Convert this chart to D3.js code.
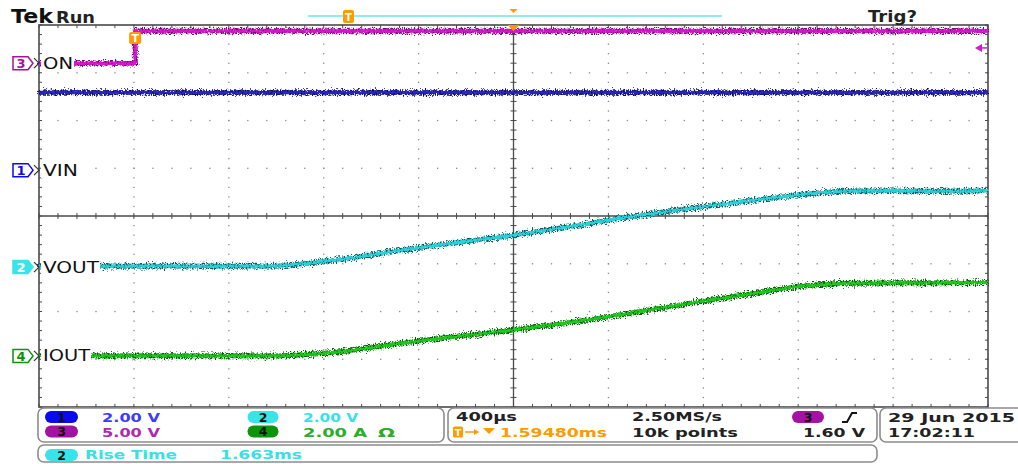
<!DOCTYPE html>
<html><head><meta charset="utf-8">
<script src="https://cdn.jsdelivr.net/npm/d3@7"></script>
<style>html,body{margin:0;padding:0;background:#fff;}svg{display:block;}</style>
</head><body>
<svg id="c" width="1018" height="464"></svg>
<script>
// ---------- data ----------
const timeMs = [-2.0, -1.0, -0.9, -0.7, -0.5, -0.25, 0, 0.25, 0.5, 0.75, 1.0, 1.2, 1.4, 1.6, 1.8, 2.0];
const voutV  = [0.04, 0.04, 0.13, 0.36, 0.67, 1.01, 1.34, 1.72, 2.12, 2.47, 2.78, 3.02, 3.18, 3.20, 3.18, 3.20];
const ioutA  = [0.00, 0.00, 0.04, 0.21, 0.50, 0.80, 1.09, 1.42, 1.80, 2.22, 2.60, 2.90, 3.04, 3.06, 3.06, 3.07];
const vinTime = [-2.0, 2.0];
const vinV    = [3.25, 3.25];
const onTime  = [-2.0, -1.5948, -1.5948, 2.0];
const onV     = [0.0, 0.0, 3.37, 3.37];
const channelIds   = [1, 2, 3, 4];
const channelNames = ["VIN", "VOUT", "ON", "IOUT"];
const channelScale = [2.0, 2.0, 5.0, 2.0];       // units per division
const channelOffset = [0.96, -1.07, 3.2, -2.93]; // divisions
const channelUnits = ["2.00 V", "2.00 V", "5.00 V", "2.00 A"];
const triggerTimeMs = -1.5948;
const triggerLevelV = 1.60;
const timeDivLabel = "400µs";
const sampleRate = "2.50MS/s";
const recordLen = "10k points";
const triggerDelay = "1.59480ms";
const triggerLevelLabel = "1.60 V";
const riseTimeLabel = "Rise Time";
const riseTimeValue = "1.663ms";
const dateLabel = "29 Jun 2015";
const timeLabel = "17:02:11";

// ---------- geometry ----------
const svg = d3.select("#c");
const L = 39, R = 988, T = 25, B = 407;
const x = d3.scaleLinear().domain([-2, 2]).range([L, R]);
const yDiv = d3.scaleLinear().domain([-4, 4]).range([B, T]);
const xDiv = d3.scaleLinear().domain([-5, 5]).range([L, R]);
const col = {
  1: {trace: "#2828b8", dark: "#0c0c5a", pill: "#0a0af0", text: "#3c3cf8"},
  2: {trace: "#2cd0d8", dark: "#0e5a60", pill: "#38e4e8", text: "#38e0e8"},
  3: {trace: "#d818d0", dark: "#701070", pill: "#a412a4", text: "#b028b0"},
  4: {trace: "#1cc81c", dark: "#0a5a0a", pill: "#0c940c", text: "#2aae2a"}
};
const orange = "#ff9a00";
const FONT = "DejaVu Sans, Verdana, sans-serif";

const defs = svg.append("defs");
function mkFilter(id, seed, freq, scale) {
  const f = defs.append("filter").attr("id", id).attr("filterUnits", "userSpaceOnUse")
    .attr("x", 0).attr("y", 0).attr("width", 1018).attr("height", 464);
  f.append("feTurbulence").attr("type", "fractalNoise").attr("baseFrequency", freq)
    .attr("numOctaves", 2).attr("seed", seed).attr("result", "n");
  f.append("feDisplacementMap").attr("in", "SourceGraphic").attr("in2", "n")
    .attr("scale", scale).attr("xChannelSelector", "R").attr("yChannelSelector", "G");
}
mkFilter("jA", 3, "0.9 0.7", 9);
mkFilter("jB", 11, "0.8 0.6", 6);

// ---------- graticule ----------
const g = svg.append("g");
const dotC = "#8a8a8a";
for (let i = -4; i <= 4; i++) {
  if (i === 0) continue;
  for (let k = -20; k <= 20; k++) {
    g.append("rect").attr("x", xDiv(i) - 0.6).attr("y", yDiv(k / 5) - 0.6)
      .attr("width", 1.3).attr("height", 1.3).attr("fill", dotC);
  }
}
for (let j = -3; j <= 3; j++) {
  if (j === 0) continue;
  for (let k = -25; k <= 25; k++) {
    g.append("rect").attr("x", xDiv(k / 5) - 0.6).attr("y", yDiv(j) - 0.6)
      .attr("width", 1.3).attr("height", 1.3).attr("fill", dotC);
  }
}
const lineC = "#4a4a4a";
g.append("line").attr("x1", L).attr("x2", R).attr("y1", yDiv(0)).attr("y2", yDiv(0)).attr("stroke", lineC).attr("stroke-width", 1.3);
g.append("line").attr("x1", xDiv(0)).attr("x2", xDiv(0)).attr("y1", T).attr("y2", B).attr("stroke", lineC).attr("stroke-width", 1.3);
for (let k = -25; k <= 25; k++) {
  g.append("line").attr("x1", xDiv(k / 5)).attr("x2", xDiv(k / 5)).attr("y1", yDiv(0) - 3).attr("y2", yDiv(0) + 3).attr("stroke", lineC).attr("stroke-width", 1);
  g.append("line").attr("x1", xDiv(k / 5)).attr("x2", xDiv(k / 5)).attr("y1", T).attr("y2", T + 3).attr("stroke", lineC).attr("stroke-width", 1);
  g.append("line").attr("x1", xDiv(k / 5)).attr("x2", xDiv(k / 5)).attr("y1", B).attr("y2", B - 3).attr("stroke", lineC).attr("stroke-width", 1);
}
for (let k = -20; k <= 20; k++) {
  g.append("line").attr("x1", xDiv(0) - 3).attr("x2", xDiv(0) + 3).attr("y1", yDiv(k / 5)).attr("y2", yDiv(k / 5)).attr("stroke", lineC).attr("stroke-width", 1);
  g.append("line").attr("x1", L).attr("x2", L + 3).attr("y1", yDiv(k / 5)).attr("y2", yDiv(k / 5)).attr("stroke", lineC).attr("stroke-width", 1);
  g.append("line").attr("x1", R).attr("x2", R - 3).attr("y1", yDiv(k / 5)).attr("y2", yDiv(k / 5)).attr("stroke", lineC).attr("stroke-width", 1);
}
g.append("rect").attr("x", L).attr("y", T).attr("width", R - L).attr("height", B - T)
  .attr("fill", "none").attr("stroke", lineC).attr("stroke-width", 1.6);

// ---------- traces ----------
function divOf(ch, v) { const i = ch - 1; return channelOffset[i] + v / channelScale[i]; }
function drawTrace(ch, times, vals, curve) {
  const pts = times.map((t, i) => [x(t), yDiv(divOf(ch, vals[i]))]);
  const line = d3.line().curve(curve);
  svg.append("path").attr("d", line(pts)).attr("fill", "none").attr("stroke", col[ch].dark)
    .attr("stroke-width", 4.6).attr("filter", "url(#jA)");
  svg.append("path").attr("d", line(pts)).attr("fill", "none").attr("stroke", col[ch].trace)
    .attr("stroke-width", 3.4).attr("filter", "url(#jB)");
}
drawTrace(3, onTime, onV, d3.curveLinear);
drawTrace(1, vinTime, vinV, d3.curveLinear);
drawTrace(2, timeMs, voutV, d3.curveMonotoneX);
drawTrace(4, timeMs, ioutA, d3.curveMonotoneX);

// ---------- channel markers & labels ----------
channelIds.forEach((ch, i) => {
  const yy = yDiv(channelOffset[i]);
  const filled = ch === 2;
  svg.append("path")
    .attr("d", `M13,${yy - 6.5} H28 L33,${yy} L28,${yy + 6.5} H13 Z`)
    .attr("fill", filled ? col[ch].pill : "#fff").attr("stroke", col[ch].pill).attr("stroke-width", 1.5);
  svg.append("text").attr("x", 21).attr("y", yy + 5).attr("text-anchor", "middle")
    .attr("font-family", FONT).attr("font-weight", "bold").attr("font-size", 13)
    .attr("fill", filled ? "#fff" : col[ch].pill).text(ch);
  svg.append("path").attr("d", `M34,${yy - 5} L39,${yy} L34,${yy + 5}`)
    .attr("fill", "none").attr("stroke", "#333").attr("stroke-width", 1.2);
  const name = channelNames[i];
  const widths = {ON: 30, VIN: 35, VOUT: 56, IOUT: 47};
  svg.append("rect").attr("x", 41).attr("y", yy - 9).attr("width", widths[name] + 3).attr("height", 17).attr("fill", "#fff");
  svg.append("text").attr("x", 43).attr("y", yy + 5.5)
    .attr("font-family", FONT).attr("font-size", 15.5).attr("fill", "#111")
    .attr("textLength", widths[name]).attr("lengthAdjust", "spacingAndGlyphs").text(name);
});

const xt = x(triggerTimeMs);
svg.append("rect").attr("x", xt - 6).attr("y", 32).attr("width", 12).attr("height", 12).attr("rx", 2).attr("fill", orange);
svg.append("text").attr("x", xt).attr("y", 42).attr("text-anchor", "middle").attr("font-family", FONT)
  .attr("font-weight", "bold").attr("font-size", 11).attr("fill", "#fff").text("T");
const yl = yDiv(divOf(3, triggerLevelV));
svg.append("path").attr("d", `M975,${yl} L982,${yl - 4} L982,${yl + 4} Z`).attr("fill", col[3].trace);
svg.append("line").attr("x1", 981).attr("x2", 987).attr("y1", yl).attr("y2", yl).attr("stroke", col[3].trace).attr("stroke-width", 1.5);

// ---------- top status ----------
svg.append("text").attr("x", 11).attr("y", 23).attr("font-family", FONT).attr("font-weight", "bold")
  .attr("font-size", 19).attr("fill", "#111").attr("textLength", 42).attr("lengthAdjust", "spacingAndGlyphs").text("Tek");
svg.append("text").attr("x", 56).attr("y", 23).attr("font-family", FONT).attr("font-weight", "bold")
  .attr("font-size", 15).attr("fill", "#222").attr("textLength", 39).attr("lengthAdjust", "spacingAndGlyphs").text("Run");
svg.append("text").attr("x", 868).attr("y", 22).attr("font-family", FONT).attr("font-weight", "bold")
  .attr("font-size", 15).attr("fill", "#222").attr("textLength", 49).attr("lengthAdjust", "spacingAndGlyphs").text("Trig?");
svg.append("line").attr("x1", 308).attr("x2", 722).attr("y1", 16).attr("y2", 16).attr("stroke", "#8ceef4").attr("stroke-width", 2);
const xpos = 348;
svg.append("rect").attr("x", xpos - 5).attr("y", 10).attr("width", 11).attr("height", 13).attr("rx", 2).attr("fill", orange);
svg.append("text").attr("x", xpos + 0.5).attr("y", 21).attr("text-anchor", "middle").attr("font-family", FONT)
  .attr("font-weight", "bold").attr("font-size", 10).attr("fill", "#fff").text("T");
const xc = xDiv(0);
svg.append("path").attr("d", `M${xc - 4},9 L${xc + 4},9 L${xc},13 Z`).attr("fill", orange);
svg.append("path").attr("d", `M${xc - 6},25 L${xc + 6},25 L${xc},31 Z`).attr("fill", orange);

// ---------- bottom panels ----------
const panelC = "#8c8c8c";
function panel(x0, y0, w, h) {
  svg.append("rect").attr("x", x0).attr("y", y0).attr("width", w).attr("height", h).attr("rx", 6)
    .attr("fill", "#fff").attr("stroke", panelC).attr("stroke-width", 1.6);
}
panel(38, 408, 406, 34);
panel(448, 408, 429, 34);
panel(880, 408, 145, 34);
panel(38, 445, 839, 17);

function pill(cx, cy, ch, w) {
  svg.append("rect").attr("x", cx - w / 2).attr("y", cy - 6).attr("width", w).attr("height", 12).attr("rx", 6).attr("fill", col[ch].pill);
  svg.append("text").attr("x", cx).attr("y", cy + 4.6).attr("text-anchor", "middle").attr("font-family", FONT)
    .attr("font-weight", "bold").attr("font-size", 12.5).attr("fill", "#111").text(ch);
}
function txt(s, x0, y0, w, color, size) {
  const t = svg.append("text").attr("x", x0).attr("y", y0).attr("font-family", FONT).attr("font-weight", "bold")
    .attr("font-size", size || 12.8).attr("fill", color).text(s);
  if (w) t.attr("textLength", w).attr("lengthAdjust", "spacingAndGlyphs");
  return t;
}
pill(61.5, 417, 1, 33);
txt(channelUnits[0], 102, 422, 58, col[1].text);
pill(61.5, 431.5, 3, 33);
txt(channelUnits[2], 102, 437, 58, col[3].text);
pill(263, 417, 2, 31);
txt(channelUnits[1], 303, 422, 55, col[2].text);
pill(263, 431.5, 4, 31);
txt(channelUnits[3], 303, 437, 64, col[4].text);
txt("Ω", 378, 437, 17, col[4].text);
txt(timeDivLabel, 456, 421, 61, "#222");
txt(sampleRate, 632, 421, 90, "#222");
pill(808, 417, 3, 32);
svg.append("path").attr("d", "M842,422 H847 L852,413 H857").attr("fill", "none").attr("stroke", "#111").attr("stroke-width", 2);
svg.append("rect").attr("x", 453).attr("y", 426.5).attr("width", 10).attr("height", 11).attr("rx", 1.5).attr("fill", orange);
svg.append("text").attr("x", 458).attr("y", 435.5).attr("text-anchor", "middle").attr("font-family", FONT)
  .attr("font-weight", "bold").attr("font-size", 9.5).attr("fill", "#fff").text("T");
svg.append("line").attr("x1", 465).attr("x2", 478).attr("y1", 432).attr("y2", 432).attr("stroke", orange).attr("stroke-width", 1.5);
svg.append("path").attr("d", "M474,429 L479,432 L474,435 Z").attr("fill", orange);
svg.append("path").attr("d", "M483,428 L495,428 L489,434 Z").attr("fill", orange);
txt(triggerDelay, 500, 437, 107, orange);
txt(recordLen, 632, 437, 106, "#222");
txt(triggerLevelLabel, 803, 437, 62, "#222");
txt(dateLabel, 888, 422, 127, "#222");
txt(timeLabel, 888, 437, 87, "#222");
pill(61.5, 455, 2, 33);
txt(riseTimeLabel, 85, 459, 92, col[2].text);
txt(riseTimeValue, 220, 459, 82, col[2].text);
</script>
</body></html>
